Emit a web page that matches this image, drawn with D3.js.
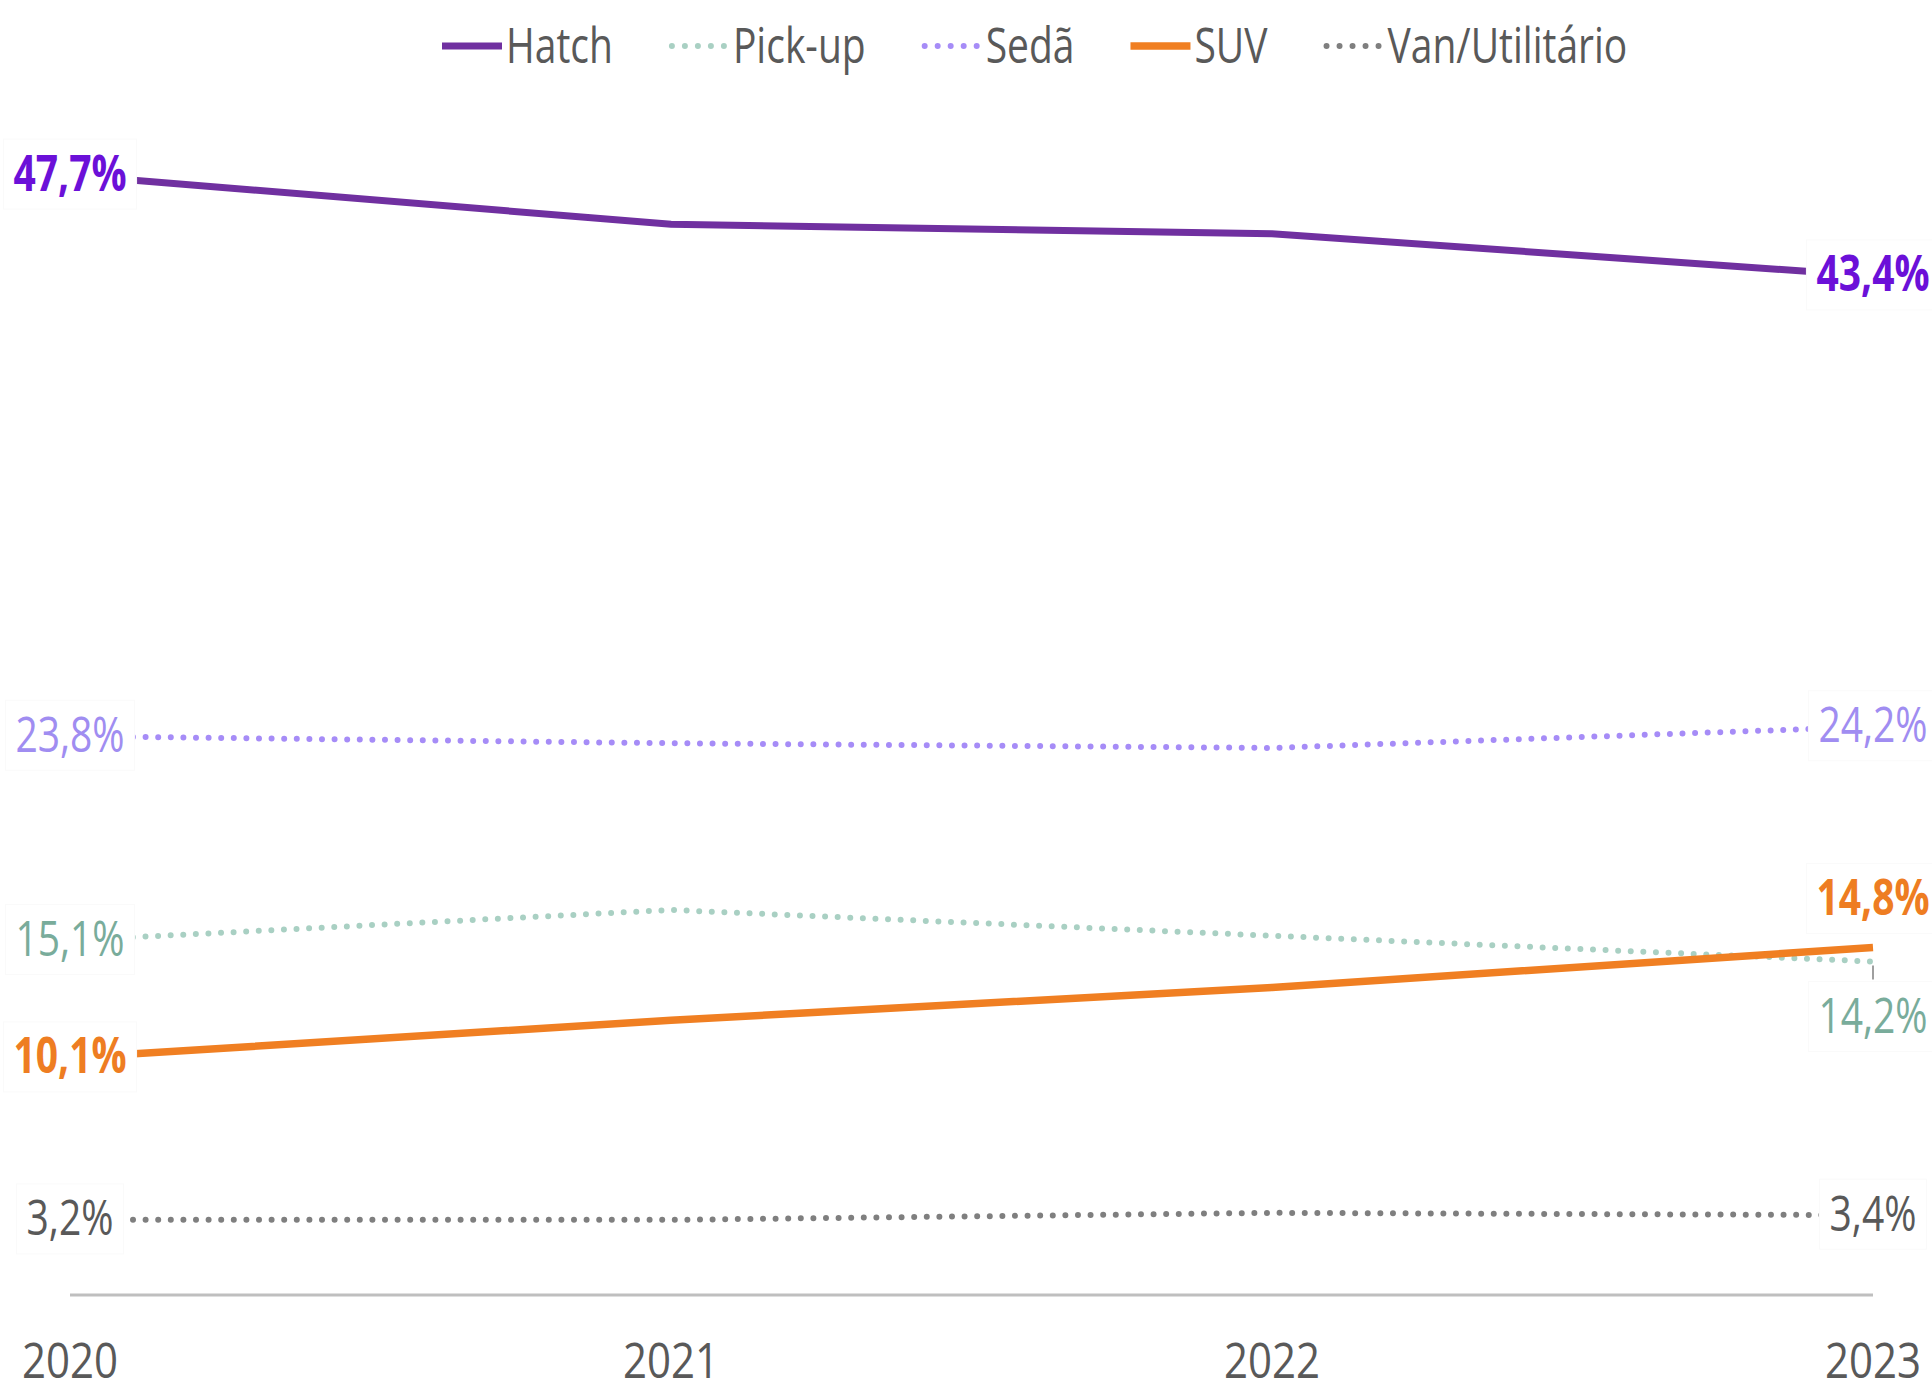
<!DOCTYPE html>
<html>
<head>
<meta charset="utf-8">
<script src="https://cdn.jsdelivr.net/npm/d3@7"></script>
<style>
  body { margin: 0; background: #fff; }
  svg text { font-family: "Open Sans", "DejaVu Sans", sans-serif; }
</style>
</head>
<body>
<div id="chart"></div>
<script>
// values (% share per year)
const years = ["2020", "2021", "2022", "2023"];
const seriesNames = ["Hatch", "Pick-up", "Sedã", "SUV", "Van/Utilitário"];
const hatch = [47.7, 45.6, 45.2, 43.4];
const pickup = [15.1, 16.4, 15.3, 14.2];
const seda = [23.8, 23.5, 23.3, 24.2];
const suv = [10.1, 11.7, 13.1, 14.8];
const van = [3.2, 3.2, 3.5, 3.4];
const yDomain = [0, 50];

const width = 1932, height = 1392;
const fontSize = 50, squeeze = 0.78;   // narrow look of the original font

const series = [
  { name: seriesNames[0], values: hatch, line: "#7030A0", label: "#6B10D8", bold: true, dotted: false, w: 7 },
  { name: seriesNames[1], values: pickup, line: "#A9D0C3", label: "#79AC9B", bold: false, dotted: true, w: 6 },
  { name: seriesNames[2], values: seda, line: "#A68CF7", label: "#A08DF1", bold: false, dotted: true, w: 6 },
  { name: seriesNames[3], values: suv, line: "#F07F22", label: "#EE7D22", bold: true, dotted: false, w: 7.5 },
  { name: seriesNames[4], values: van, line: "#7F7F7F", label: "#595959", bold: false, dotted: true, w: 6 }
];

const x = d3.scalePoint().domain(years).range([70, 1873]);
const y = d3.scaleLinear().domain(yDomain).range([1295, 121]);
const fmt = v => d3.format(".1f")(v).replace(".", ",") + "%";

const svg = d3.select("#chart").append("svg")
    .attr("width", width)
    .attr("height", height);

// baseline axis
svg.append("line")
    .attr("x1", x(years[0])).attr("x2", x(years[years.length - 1]))
    .attr("y1", y(0)).attr("y2", y(0))
    .attr("stroke", "#BFBFBF")
    .attr("stroke-width", 3);

// year labels
svg.selectAll(".year")
    .data(years)
    .enter().append("text")
    .attr("class", "year")
    .attr("text-anchor", "middle")
    .attr("font-size", fontSize)
    .attr("fill", "#595959")
    .attr("transform", d => "translate(" + x(d) + ",1378) scale(0.84,1)")
    .text(d => d);

const line = d3.line()
    .x((d, i) => x(years[i]))
    .y(d => y(d));

function styleStroke(sel, s) {
    sel.attr("stroke", s.line)
        .attr("stroke-width", s.w)
        .attr("fill", "none");
    if (s.dotted) {
        sel.attr("stroke-dasharray", "0 12.6").attr("stroke-linecap", "round");
    }
}

// series lines
series.forEach(s => {
    svg.append("path")
        .datum(s.values)
        .attr("d", line)
        .call(styleStroke, s);
});

// leader line for the pick-up 2023 label
svg.append("line")
    .attr("x1", x("2023")).attr("x2", x("2023"))
    .attr("y1", y(pickup[3]) + 4).attr("y2", y(pickup[3]) + 18)
    .attr("stroke", "#7F7F7F")
    .attr("stroke-width", 1.5);

// end labels with white boxes
function addLabel(cx, cy, text, s) {
    const g = svg.append("g").attr("transform", "translate(" + cx + "," + cy + ")");
    const rect = g.append("rect");
    const t = g.append("text")
        .attr("text-anchor", "middle")
        .attr("font-size", fontSize)
        .attr("font-weight", s.bold ? 700 : 400)
        .attr("fill", s.label)
        .attr("transform", "scale(" + squeeze + ",1)")
        .attr("y", fontSize * 0.35)
        .text(text);
    const bb = t.node().getBBox();
    const w = bb.width * squeeze + 20;
    rect.attr("x", -w / 2).attr("y", -34)
        .attr("width", w).attr("height", 70)
        .attr("fill", "#fff")
        .attr("stroke", "#FAFAFA");
}

series.forEach(s => {
    const first = s.values[0], last = s.values[s.values.length - 1];
    addLabel(x(years[0]), y(first) - 2, fmt(first), s);
    let dy = -2;
    if (s.name === "SUV") dy = -50;
    if (s.name === "Pick-up") dy = 54;
    addLabel(x(years[years.length - 1]), y(last) + dy, fmt(last), s);
});

// legend
let lx = 442;
const ly = 46;
series.forEach(s => {
    const seg = svg.append("line")
        .attr("x1", lx + (s.dotted ? 3 : 0)).attr("x2", lx + 60)
        .attr("y1", ly).attr("y2", ly)
        .call(styleStroke, s);
    if (s.dotted) seg.attr("stroke-dasharray", "0 13");
    const t = svg.append("text")
        .attr("font-size", fontSize)
        .attr("fill", "#595959")
        .attr("transform", "translate(" + (lx + 64) + "," + (ly + 17) + ") scale(" + squeeze + ",1)")
        .text(s.name);
    lx += 64 + t.node().getComputedTextLength() * squeeze + 56;
});
</script>
</body>
</html>
